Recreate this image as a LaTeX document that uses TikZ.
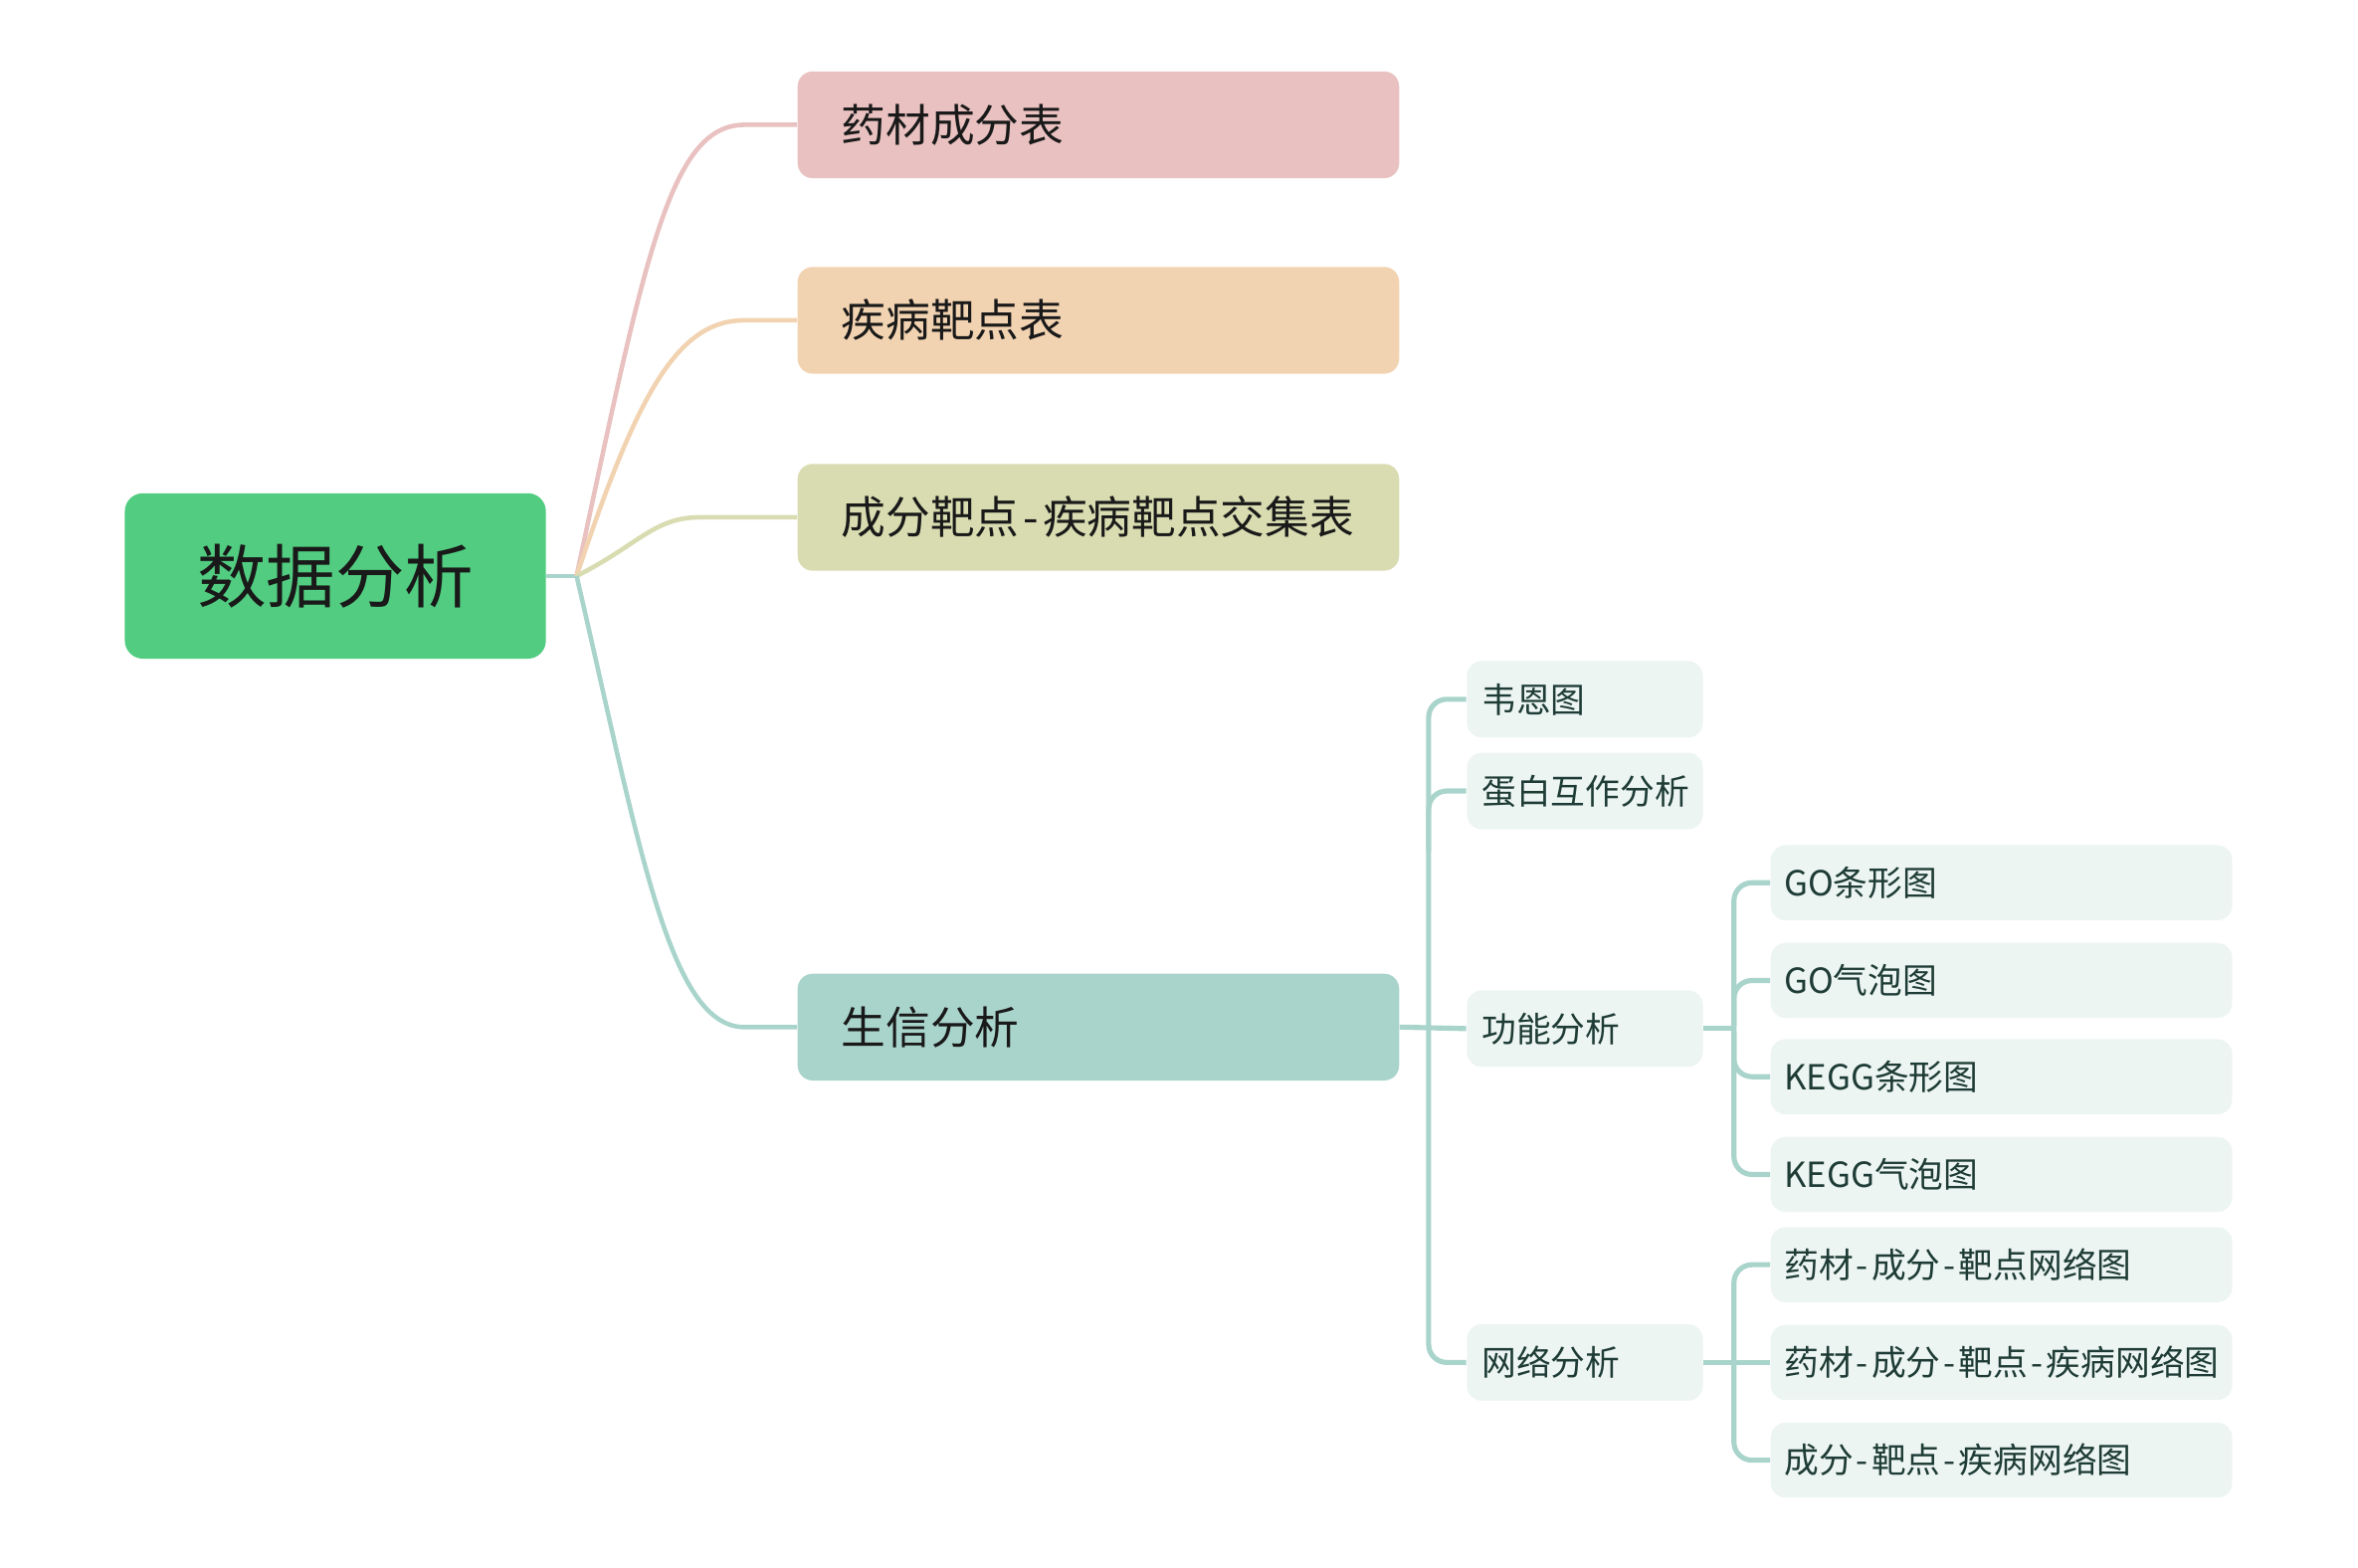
\documentclass[tikz,border=0pt]{standalone}
\usepackage{fontspec}
\setmainfont{Noto Sans CJK SC}
\usetikzlibrary{calc}
\newcommand{\hyph}{\kern0.09em-\kern0.09em}
\definecolor{rootg}{HTML}{51CC80}
\definecolor{pinkc}{HTML}{E8C1C0}
\definecolor{peachc}{HTML}{F2D3B1}
\definecolor{olivec}{HTML}{D8DCB0}
\definecolor{tealc}{HTML}{A9D4CB}
\definecolor{lightc}{HTML}{EDF5F3}
\definecolor{darkt}{HTML}{1E3C35}
\tikzset{
  rootbox/.style={fill=rootg, rounded corners=6pt, minimum width=140pt, minimum height=55pt, inner sep=0pt, font=\fontsize{23}{26}\selectfont, text=black!90},
  lonebox/.style={anchor=west, rounded corners=5pt, minimum width=200pt, minimum height=35.5pt, inner sep=0pt, text width=200pt, align=left, font=\fontsize{14.8}{17}\selectfont, text=black!90},
  ltwobox/.style={anchor=west, fill=lightc, rounded corners=5pt, minimum width=78.5pt, minimum height=25.5pt, inner sep=0pt, text width=78.5pt, align=left, font=\fontsize{11.5}{13}\selectfont, text=darkt},
  lthreebox/.style={anchor=west, fill=lightc, rounded corners=5pt, minimum width=153.5pt, minimum height=25pt, inner sep=0pt, text width=153.5pt, align=left, font=\fontsize{11.5}{13}\selectfont, text=darkt},
  br/.style={line width=1.5pt},
  subbr/.style={line width=1.7pt, draw=tealc, rounded corners=6pt},
}
\begin{document}
\begin{tikzpicture}[x=0.5pt,y=-0.5pt]
\useasboundingbox (0,0) rectangle (1568,1042.6);
% root
\node[rootbox] (root) at (223,383) {数据分析};
% level 1 boxes
\node[lonebox, fill=pinkc] (b1) at (530,83) {\hspace*{14.5pt}药材成分表};
\node[lonebox, fill=peachc] (b2) at (530,213) {\hspace*{14.5pt}疾病靶点表};
\node[lonebox, fill=olivec] (b3) at (530,344) {\hspace*{14.5pt}成分靶点\hyph 疾病靶点交集表};
\node[lonebox, fill=tealc] (b4) at (530,683) {\hspace*{14.5pt}生信分析};
% hub
\draw[br, draw=tealc] (root.east) -- ++(20,0) coordinate (hub);
% branches
\draw[br, draw=pinkc] (hub) .. controls ($(hub)+(45,-210)$) and ($(b1.west)+(-85,0)$) .. ($(b1.west)+(-35,0)$) -- (b1.west);
\draw[br, draw=peachc] (hub) .. controls ($(hub)+(40,-120)$) and ($(b2.west)+(-80,0)$) .. ($(b2.west)+(-35,0)$) -- (b2.west);
\draw[br, draw=olivec] (hub) .. controls ($(hub)+(40,-20)$) and ($(b3.west)+(-95,0)$) .. ($(b3.west)+(-65,0)$) -- (b3.west);
\draw[br, draw=tealc] (hub) .. controls ($(hub)+(42,180)$) and ($(b4.west)+(-85,0)$) .. ($(b4.west)+(-35,0)$) -- (b4.west);
% level 2
\node[ltwobox] (venn) at (975,465) {\hspace*{5pt}韦恩图};
\node[ltwobox] (ppi) at (975,526) {\hspace*{5pt}蛋白互作分析};
\node[ltwobox] (func) at (975,684) {\hspace*{5pt}功能分析};
\node[ltwobox] (net) at (975,906) {\hspace*{5pt}网络分析};
% level 3
\node[lthreebox] (goa) at (1177,587) {\hspace*{4.5pt}GO条形图};
\node[lthreebox] (gob) at (1177,652) {\hspace*{4.5pt}GO气泡图};
\node[lthreebox] (kga) at (1177,716) {\hspace*{4.5pt}KEGG条形图};
\node[lthreebox] (kgb) at (1177,781) {\hspace*{4.5pt}KEGG气泡图};
\node[lthreebox] (nwa) at (1177,841) {\hspace*{4.5pt}药材\hyph 成分\hyph 靶点网络图};
\node[lthreebox] (nwb) at (1177,906) {\hspace*{4.5pt}药材\hyph 成分\hyph 靶点\hyph 疾病网络图};
\node[lthreebox] (nwc) at (1177,971) {\hspace*{4.5pt}成分\hyph 靶点\hyph 疾病网络图};
% level 2 connectors
\draw[subbr] (b4.east) -- (func.west);
\draw[subbr] (venn.west) -- ++(-25,0) |- (net.west);
\draw[subbr] (ppi.west) -- ++(-25,0) -- ++(0,40);
% level 3 connectors
\draw[subbr] (func.east) -- ++(22,0);
\draw[subbr] (goa.west) -- ++(-24,0) |- (kgb.west);
\draw[subbr] (gob.west) -- ++(-24,0) -- ++(0,30);
\draw[subbr] (kga.west) -- ++(-24,0) -- ++(0,-30);
\draw[subbr] (net.east) -- (nwb.west);
\draw[subbr] (nwa.west) -- ++(-24,0) |- (nwc.west);
\end{tikzpicture}
\end{document}
